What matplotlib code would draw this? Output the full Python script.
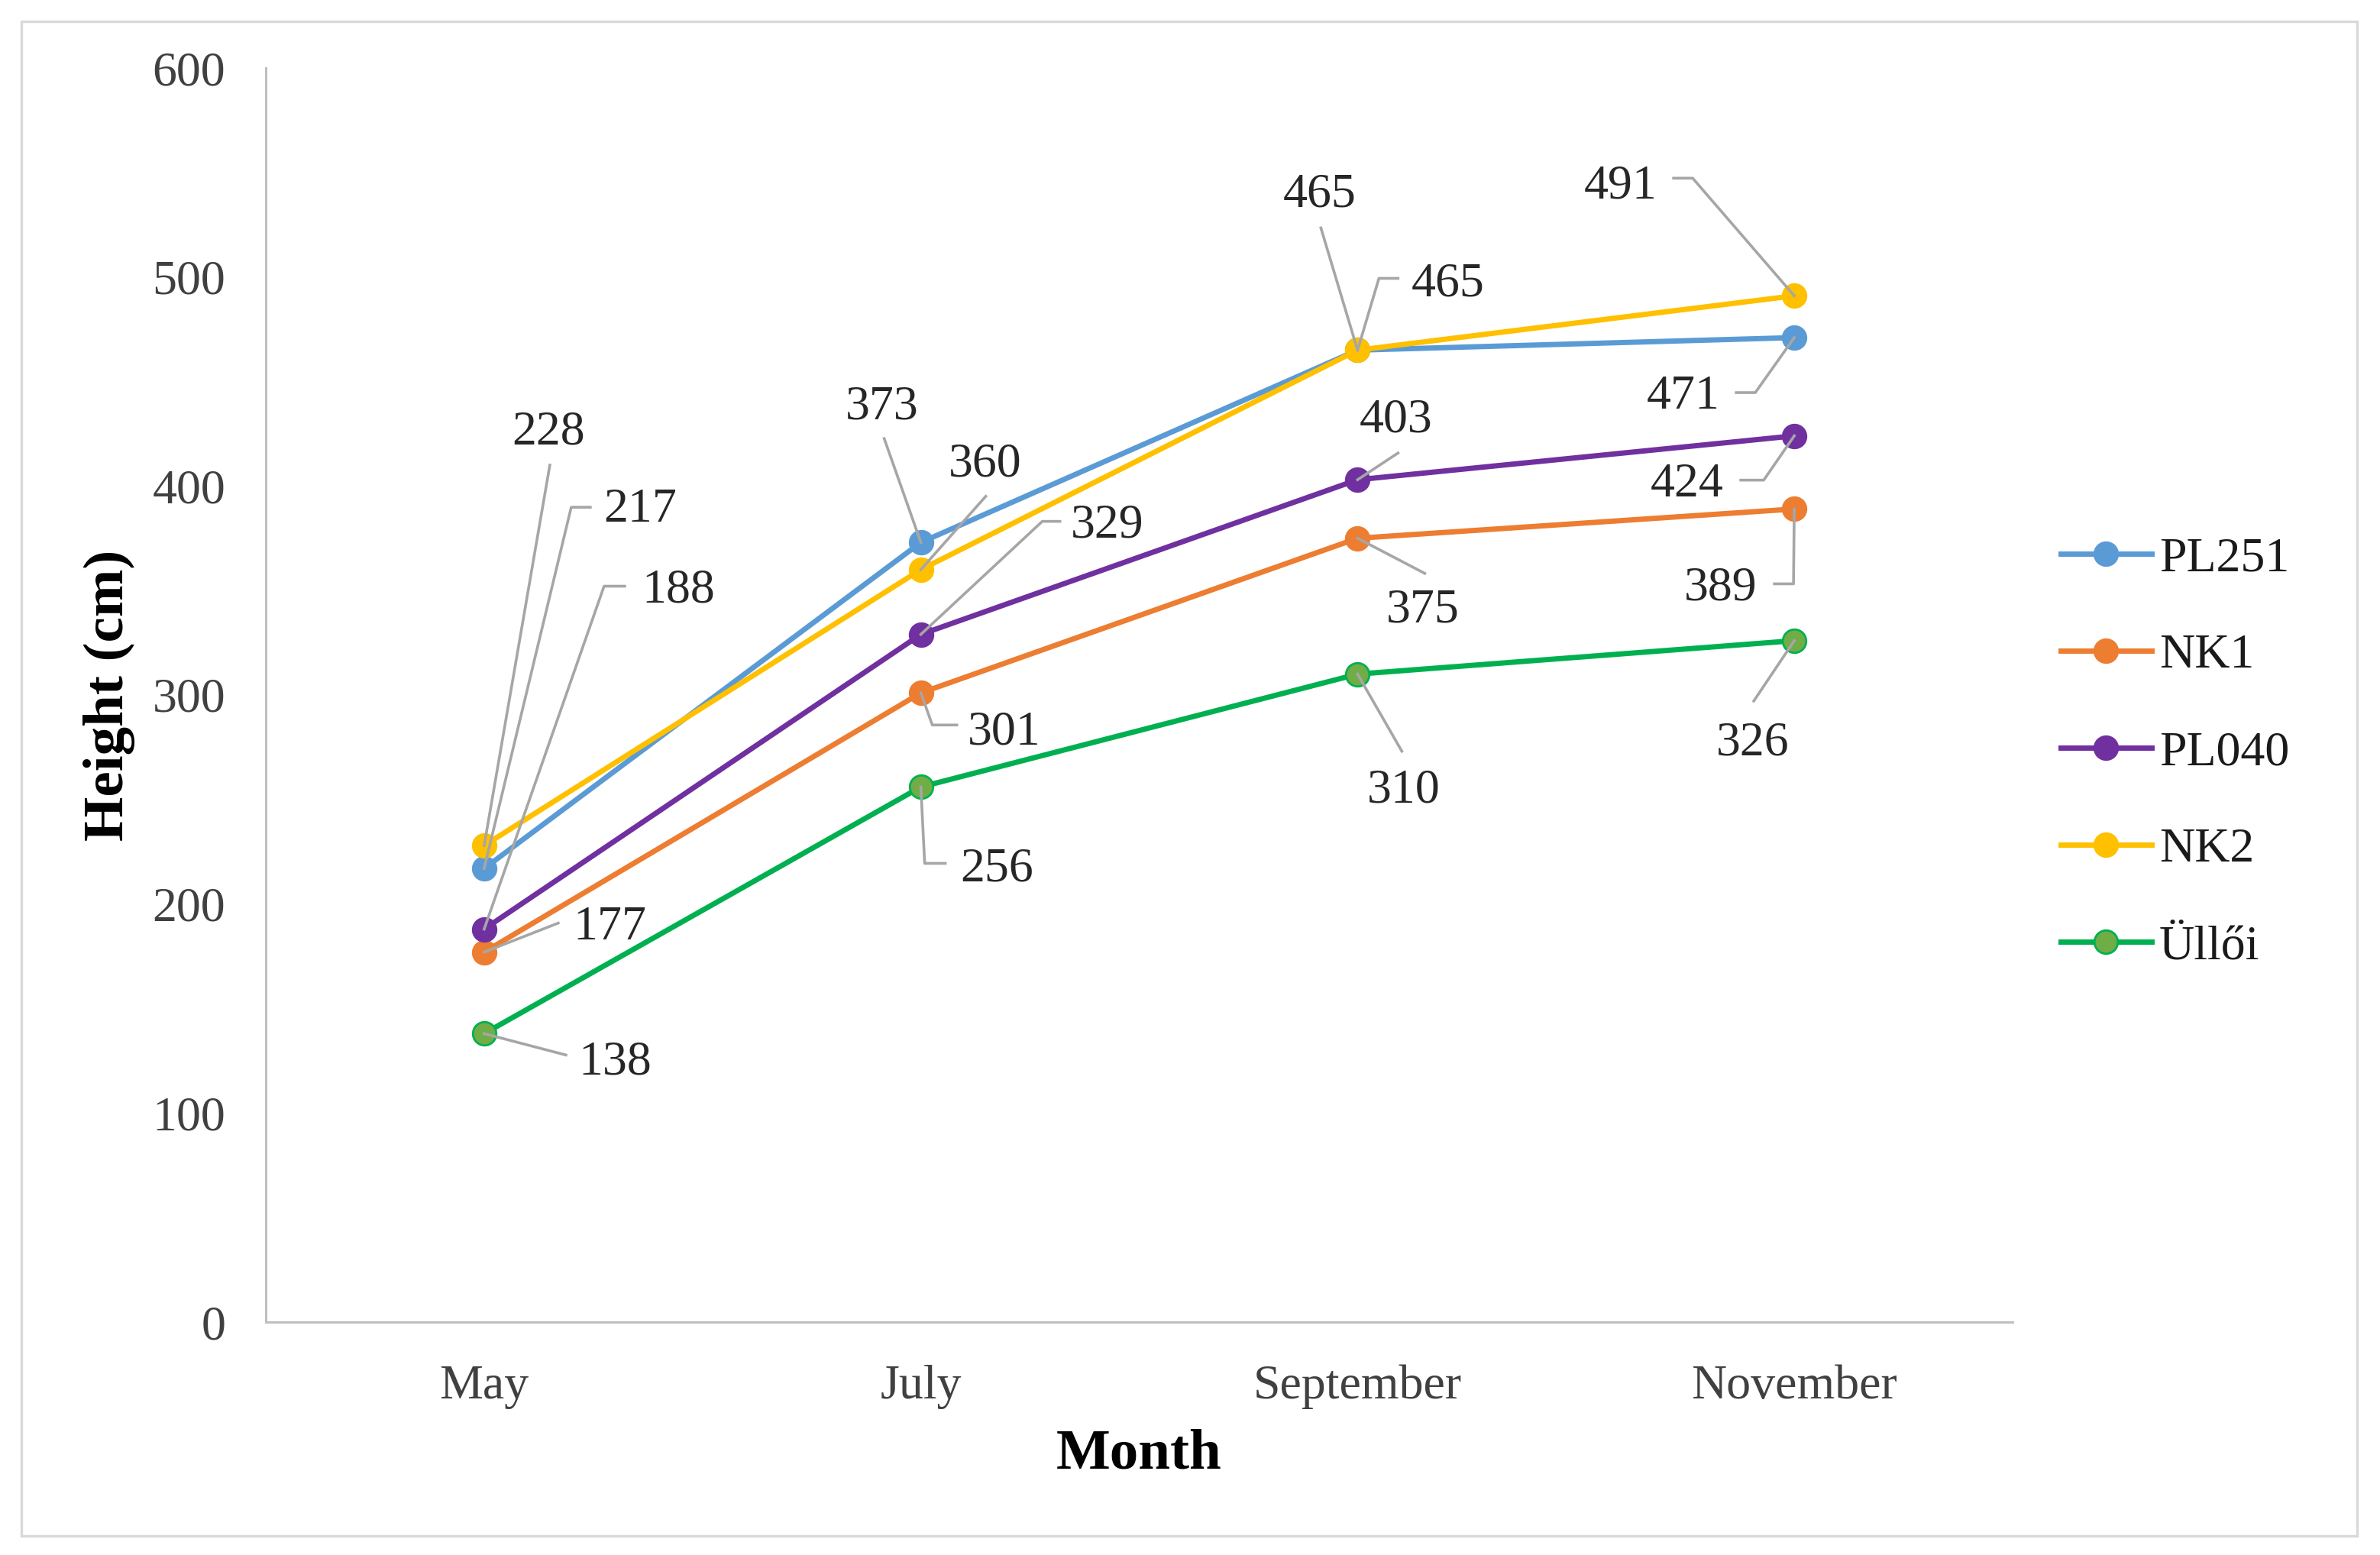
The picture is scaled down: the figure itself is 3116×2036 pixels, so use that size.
import matplotlib
matplotlib.use("Agg")
import matplotlib.pyplot as plt
from matplotlib.patches import Rectangle

plt.rcParams['font.family'] = ['Liberation Serif', 'DejaVu Serif']

months = ["May", "July", "September", "November"]
series_names = ["PL251", "NK1", "PL040", "NK2", "Üllői"]
pl251 = [217, 373, 465, 471]
nk1 = [177, 301, 375, 389]
pl040 = [188, 329, 403, 424]
nk2 = [228, 360, 465, 491]
ulloi = [138, 256, 310, 326]
all_values = [pl251, nk1, pl040, nk2, ulloi]

line_colors = ["#5B9BD5", "#ED7D31", "#7030A0", "#FFC000", "#00B050"]
face_colors = ["#5B9BD5", "#ED7D31", "#7030A0", "#FFC000", "#70AD47"]

# label placement: text centre offset and leader path, in output pixels (image y goes down)
label_text_off = [
    [(204, -475), (-51, -183), (-50, -209), (-145, 72)],
    [(164, -38), (109, 46), (85, 89), (-96, 98)],
    [(254, -449), (244, -148), (50, -84), (-140, 58)],
    [(84, -547), (84, -143), (118, -92), (-227, -149)],
    [(171, 32), (99, 102), (60, 147), (-55, 129)],
]
label_leader = [
    [[(114, -473), (139, -473)], [(-48, -136)], [(-48, -160)], [(-51, 72), (-76, 72)]],
    [[(97, -38)], [(15, 42), (47, 42)], [(88, 46)], [(-1, 98), (-26, 98)]],
    [[(157, -449), (184, -449)], [(159, -148), (182, -148)], [(53, -35)], [(-40, 58), (-70, 58)]],
    [[(86, -498)], [(85, -96)], [(28, -94), (53, -94)], [(-133, -154), (-158, -154)]],
    [[(107, 28)], [(5, 100), (32, 100)], [(58, 101)], [(-53, 79)]],
]

dpi = 200
fig = plt.figure(figsize=(3116 / dpi, 2036 / dpi), dpi=dpi)
ax = fig.add_axes([348 / 3116, 305 / 2036, 2287 / 3116, 1642 / 2036])

x = list(range(len(months)))
for name, vals, lc, fc in zip(series_names, all_values, line_colors, face_colors):
    ax.plot(x, vals, color=lc, lw=2.5, marker="o", ms=11,
            markerfacecolor=fc, markeredgecolor=lc, label=name, zorder=3)

ax.set_xlim(-0.5, 3.5)
ax.set_ylim(0, 600)
ax.set_yticks(range(0, 601, 100))
ax.set_xticks(x)
ax.set_xticklabels(months)
ax.tick_params(length=0, labelsize=23, labelcolor="#404040")
ax.tick_params(axis="y", pad=19)
ax.tick_params(axis="x", pad=20)
for side in ["top", "right"]:
    ax.spines[side].set_visible(False)
for side in ["left", "bottom"]:
    ax.spines[side].set_color("#BFBFBF")
    ax.spines[side].set_linewidth(1.1)

ax.set_ylabel("Height (cm)", fontsize=27, fontweight="bold", va="center")
ax.yaxis.set_label_coords(-0.0896, 0.5)
ax.set_xlabel("Month", fontsize=27, fontweight="bold", va="center")
ax.xaxis.set_label_coords(0.5, -0.1054)

# data labels with leader lines
inv = ax.transData.inverted()
for s, vals in enumerate(all_values):
    for i, v in enumerate(vals):
        px, py = ax.transData.transform((i, v))
        path = [(px, py)] + [(px + dx, py - dy) for dx, dy in label_leader[s][i]]
        pts = inv.transform(path)
        ax.plot(pts[:, 0], pts[:, 1], color="#A6A6A6", lw=1.3, zorder=4, clip_on=False)
        dx, dy = label_text_off[s][i]
        tx, ty = inv.transform((px + dx, py - dy - 21))
        ax.text(tx, ty, str(v), fontsize=23, color="#262626",
                ha="center", va="baseline", zorder=5)

leg = ax.legend(loc="center left", bbox_to_anchor=(2698 / 3116, (2036 - 986) / 2036),
                bbox_transform=fig.transFigure, frameon=False, fontsize=23,
                handlelength=1.86, handletextpad=0.16, labelspacing=1.07,
                borderpad=0, borderaxespad=0)
for t in leg.get_texts():
    t.set_color("#1a1a1a")

fig.add_artist(Rectangle((28 / 3116, 25 / 2036), 3058 / 3116, 1983 / 2036,
                         transform=fig.transFigure, fill=False,
                         edgecolor="#D9D9D9", lw=1.2))

fig.savefig("out.png", dpi=dpi, facecolor="white")
